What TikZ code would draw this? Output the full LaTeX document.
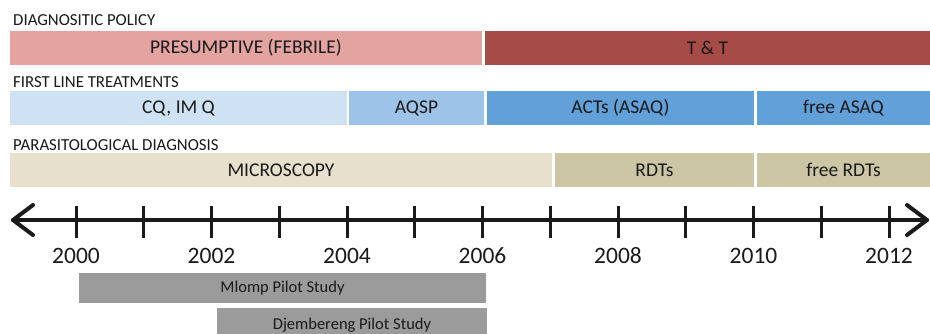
\documentclass[tikz,border=0pt]{standalone}
\usepackage{fontspec}
\setmainfont{Carlito}
\usetikzlibrary{calc}
\definecolor{pres}{HTML}{E2A3A1}
\definecolor{tt}{HTML}{A64B46}
\definecolor{cq}{HTML}{CFE2F3}
\definecolor{aqsp}{HTML}{9DC3E8}
\definecolor{acts}{HTML}{62A0DA}
\definecolor{micro}{HTML}{E6E0CC}
\definecolor{rdt}{HTML}{CCC6A5}
\definecolor{pilot}{HTML}{9B9B9B}
\definecolor{ink}{HTML}{1A1A1A}
\begin{document}
\begin{tikzpicture}[x=1pt,y=-1pt,
  bar/.style={draw=none,inner sep=0pt,minimum height=34pt,text=ink,font=\fontsize{19.5}{20}\selectfont},
  pilotbar/.style={draw=none,fill=pilot,inner sep=0pt,text=ink,font=\fontsize{16.5}{17}\selectfont},
  header/.style={anchor=west,inner sep=0pt,text=ink,font=\fontsize{16.8}{17}\selectfont},
  year/.style={inner sep=0pt,text=ink,font=\fontsize{23.5}{24}\selectfont},
  axisline/.style={line width=4pt,ink,line cap=round,line join=round},
  tick/.style={line width=3pt,ink}]
\useasboundingbox (0,0) rectangle (930,333);
\fill[white] (0,0) rectangle (930,333);
% headers
\node[header] (h1) at (13,20) {DIAGNOSITIC POLICY};
\node[header] (h2) at (13,82) {FIRST LINE TREATMENTS};
\node[header] (h3) at (13,145) {PARASITOLOGICAL DIAGNOSIS};
% row 1
\node[bar,fill=pres,minimum width=472pt] (pres) at (246,48) {PRESUMPTIVE (FEBRILE)};
\node[bar,fill=tt,minimum width=445pt] (tt) at (707.5,48) {T \& T};
% row 2
\node[bar,fill=cq,minimum width=337pt] (cq) at (178.5,108) {CQ, IM Q};
\node[bar,fill=aqsp,minimum width=135pt] (aqsp) at (416.5,108) {AQSP};
\node[bar,fill=acts,minimum width=267pt] (acts) at (620.5,108) {ACTs (ASAQ)};
\node[bar,fill=acts,minimum width=173pt] (fasaq) at (843.5,108) {free ASAQ};
% row 3
\node[bar,fill=micro,minimum width=542pt] (micro) at (281,170) {MICROSCOPY};
\node[bar,fill=rdt,minimum width=199pt] (rdt) at (654.5,170) {RDTs};
\node[bar,fill=rdt,minimum width=173pt] (frdt) at (843.5,170) {free RDTs};
% axis
\coordinate (L) at (13,220);
\coordinate (R) at (927,220);
\draw[axisline] (L) -- (R);
\draw[axisline] ($(L)+(20,-15)$) -- (L) -- ($(L)+(20,15)$);
\draw[axisline] ($(R)+(-20,-15)$) -- (R) -- ($(R)+(-20,15)$);
\foreach \k in {0,...,12}{
  \draw[tick] ({76+67.75*\k},206) -- ({76+67.75*\k},238);
}
\foreach \k/\yr in {0/2000,2/2002,4/2004,6/2006,8/2008,10/2010,12/2012}{
  \node[year] (y\yr) at ({76+67.75*\k},256) {\yr};
}
% pilot studies
\node[pilotbar,minimum width=407pt,minimum height=30pt] (mlomp) at (282.5,288) {Mlomp Pilot Study};
\node[pilotbar,minimum width=270pt,minimum height=32pt] (djem) at (352,324) {};
\node[inner sep=0pt,text=ink,font=\fontsize{16.5}{17}\selectfont] (djemt) at (352,325) {Djembereng Pilot Study};
\end{tikzpicture}
\end{document}
